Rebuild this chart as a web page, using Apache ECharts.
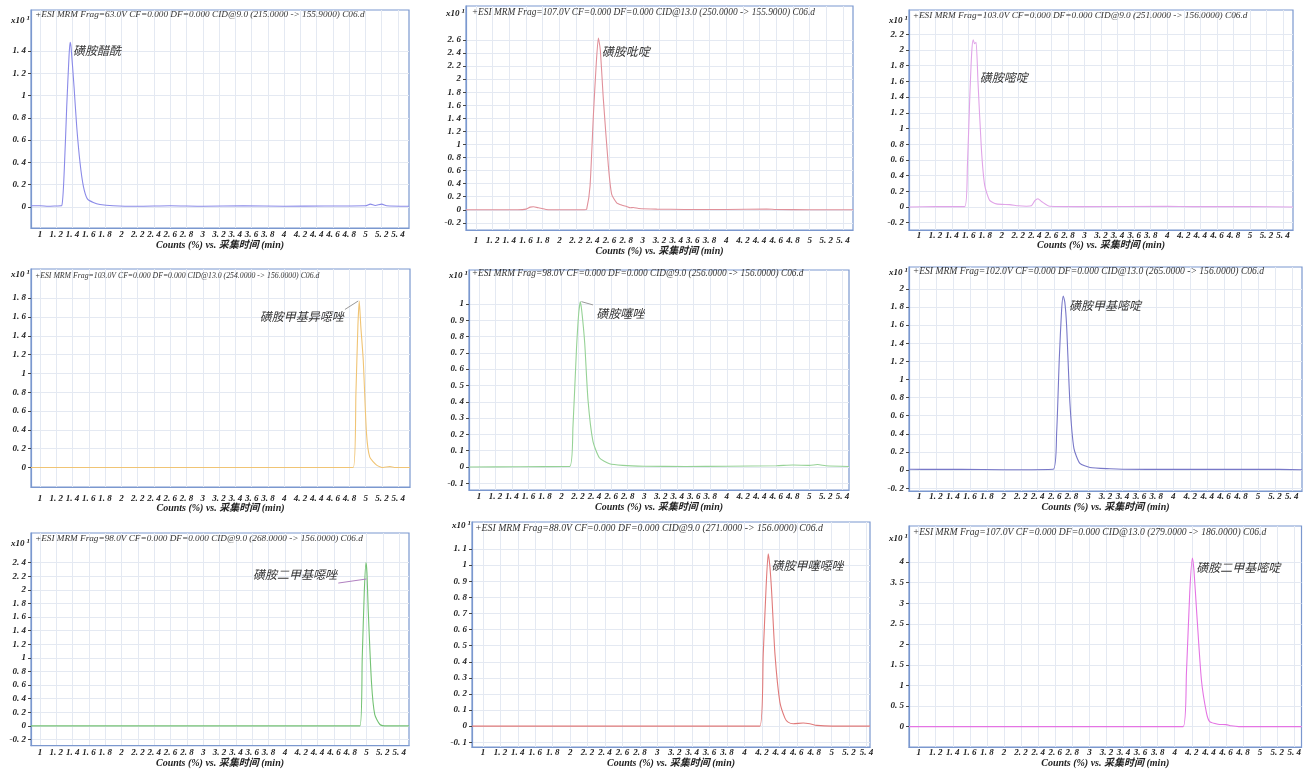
<!DOCTYPE html>
<html><head><meta charset="utf-8">
<script src="https://cdn.jsdelivr.net/npm/echarts@6/dist/echarts.min.js"></script>
<style>html,body{margin:0;padding:0;background:#fff}#c{width:1304px;height:769px}</style>
</head><body><div id="c"></div>
<script>
// ---------------- data ----------------
const xTicks = [1,1.2,1.4,1.6,1.8,2,2.2,2.4,2.6,2.8,3,3.2,3.4,3.6,3.8,4,4.2,4.4,4.6,4.8,5,5.2,5.4];
const compounds = ['磺胺醋酰','磺胺吡啶','磺胺嘧啶','磺胺甲基异噁唑','磺胺噻唑','磺胺甲基嘧啶','磺胺二甲基噁唑','磺胺甲噻噁唑','磺胺二甲基嘧啶'];
const headers = [
 '+ESI MRM Frag=63.0V CF=0.000 DF=0.000 CID@9.0 (215.0000 -> 155.9000) C06.d',
 '+ESI MRM Frag=107.0V CF=0.000 DF=0.000 CID@13.0 (250.0000 -> 155.9000) C06.d',
 '+ESI MRM Frag=103.0V CF=0.000 DF=0.000 CID@9.0 (251.0000 -> 156.0000) C06.d',
 '+ESI MRM Frag=103.0V CF=0.000 DF=0.000 CID@13.0 (254.0000 -> 156.0000) C06.d',
 '+ESI MRM Frag=98.0V CF=0.000 DF=0.000 CID@9.0 (256.0000 -> 156.0000) C06.d',
 '+ESI MRM Frag=102.0V CF=0.000 DF=0.000 CID@13.0 (265.0000 -> 156.0000) C06.d',
 '+ESI MRM Frag=98.0V CF=0.000 DF=0.000 CID@9.0 (268.0000 -> 156.0000) C06.d',
 '+ESI MRM Frag=88.0V CF=0.000 DF=0.000 CID@9.0 (271.0000 -> 156.0000) C06.d',
 '+ESI MRM Frag=107.0V CF=0.000 DF=0.000 CID@13.0 (279.0000 -> 186.0000) C06.d'
];
const xName = 'Counts (%) vs. 采集时间 (min)';

const t1 = [0.889,1.0,1.1,1.2,1.266,1.299,1.328,1.356,1.369,1.381,1.418,1.451,1.492,1.533,1.582,1.655,1.737,1.9,2.2,2.6,3.0,3.5,4.0,4.5,5.0,5.06,5.12,5.2,5.26,5.535];
const v1 = [0.01,0.01,0.005,0.008,0.01,0.35,0.9,1.35,1.48,1.44,1.08,0.72,0.394,0.185,0.072,0.04,0.022,0.01,0.005,0.01,0.005,0.01,0.005,0.008,0.01,0.025,0.012,0.025,0.01,0.005];

const t2 = [0.88,1.5,1.6,1.65,1.687,1.75,1.84,2.0,2.3,2.327,2.367,2.407,2.44,2.467,2.49,2.527,2.587,2.627,2.687,2.75,2.807,2.85,2.886,2.95,3.167,3.5,4.0,4.485,4.6,5.0,5.52];
const v2 = [0.0,0.0,0.01,0.04,0.045,0.03,0.005,0.0,0.0,0.01,0.36,1.44,2.2,2.63,2.45,1.69,0.67,0.235,0.107,0.07,0.05,0.03,0.035,0.02,0.01,0.005,0.005,0.012,0.005,0.0,0.0];

const t3 = [0.879,1.2,1.552,1.585,1.613,1.637,1.655,1.672,1.69,1.713,1.754,1.794,1.854,1.935,2.096,2.2,2.298,2.358,2.4,2.438,2.48,2.579,3.0,4.0,4.3,5.0,5.52];
const v3 = [0.0,0.005,0.005,0.53,1.38,1.97,2.13,2.08,2.1,1.59,0.74,0.275,0.085,0.04,0.03,0.015,0.01,0.015,0.08,0.106,0.07,0.01,0.005,0.008,0.005,0.005,0.0];

const t4 = [0.89,4.0,4.847,4.88,4.904,4.921,4.94,4.97,5.01,5.05,5.134,5.215,5.297,5.35,5.544];
const v4 = [0.0,0.0,0.0,0.79,1.5,1.77,1.5,1.14,0.36,0.11,0.025,0.0,0.01,0.0,0.0];

const t5 = [0.879,1.5,2.098,2.138,2.18,2.207,2.228,2.25,2.28,2.32,2.38,2.46,2.58,2.74,3.0,3.5,4.0,4.6,4.8,5.0,5.1,5.2,5.48];
const v5 = [0.0,0.002,0.003,0.25,0.72,0.94,1.014,0.93,0.76,0.41,0.157,0.055,0.02,0.01,0.005,0.003,0.005,0.008,0.012,0.01,0.015,0.008,0.003];

const t6 = [0.88,1.2,1.5,2.0,2.583,2.623,2.654,2.682,2.701,2.72,2.741,2.78,2.827,2.898,3.017,3.253,3.4,4.0,5.0,5.52];
const v6 = [0.01,0.008,0.01,0.005,0.01,0.41,1.22,1.77,1.92,1.85,1.59,0.74,0.24,0.074,0.03,0.015,0.01,0.008,0.01,0.005];

const t7 = [0.89,4.919,4.947,4.972,4.993,5.005,5.02,5.06,5.10,5.164,5.25,5.52];
const v7 = [0.0,0.0,0.99,1.96,2.4,2.25,1.72,0.65,0.17,0.02,0.0,0.0];

const t8 = [0.874,4.176,4.215,4.246,4.272,4.29,4.311,4.35,4.406,4.464,4.5,4.56,4.674,4.75,4.83,5.0,5.44];
const v8 = [0.0,0.0,0.446,0.84,1.07,1.0,0.84,0.446,0.149,0.05,0.025,0.015,0.02,0.015,0.005,0.0,0.0];

const t9 = [0.887,4.098,4.137,4.176,4.207,4.225,4.254,4.312,4.37,4.41,4.507,4.604,4.66,4.75,5.485];
const v9 = [0.0,0.0,1.3,3.27,4.1,3.8,2.88,1.145,0.355,0.12,0.06,0.05,0.02,0.0,0.0];

const yTicks1 = [0,0.2,0.4,0.6,0.8,1,1.2,1.4];
const yTicks2 = [-0.2,0,0.2,0.4,0.6,0.8,1,1.2,1.4,1.6,1.8,2,2.2,2.4,2.6];
const yTicks3 = [-0.2,0,0.2,0.4,0.6,0.8,1,1.2,1.4,1.6,1.8,2,2.2];
const yTicks4 = [0,0.2,0.4,0.6,0.8,1,1.2,1.4,1.6,1.8];
const yTicks5 = [-0.1,0,0.1,0.2,0.3,0.4,0.5,0.6,0.7,0.8,0.9,1];
const yTicks6 = [-0.2,0,0.2,0.4,0.6,0.8,1,1.2,1.4,1.6,1.8,2];
const yTicks7 = [-0.2,0,0.2,0.4,0.6,0.8,1,1.2,1.4,1.6,1.8,2,2.2,2.4];
const yTicks8 = [-0.1,0,0.1,0.2,0.3,0.4,0.5,0.6,0.7,0.8,0.9,1,1.1];
const yTicks9 = [0,0.5,1,1.5,2,2.5,3,3.5,4];

// annotation anchor (data coords, left edge of label) and leader lines
const annX = [1.406,2.507,1.734,3.70,2.421,2.768,3.609,4.311,4.253];
const annY = [1.41,2.43,1.647,1.604,0.939,1.82,2.22,0.997,3.87];
const leaders = [null,null,null,[[4.745,1.68],[4.908,1.77]],[[2.24,1.014],[2.38,0.994]],null,[[4.654,2.10],[5.0,2.16]],null,null];

// ---------------- layout / style ----------------
const T = [t1,t2,t3,t4,t5,t6,t7,t8,t9];
const V = [v1,v2,v3,v4,v5,v6,v7,v8,v9];
const YT = [yTicks1,yTicks2,yTicks3,yTicks4,yTicks5,yTicks6,yTicks7,yTicks8,yTicks9];
const gridL = [31,466,909,31,469,909,31,472,909];
const gridT = [10,6,10,269,270,267,533,522,526];
const gridW = [378,387,384,379,380,393,378,398,395];
const gridH = [218,224,220,218,220,224,215,235,227];
const xMin = [0.889,0.88,0.879,0.89,0.879,0.88,0.89,0.874,0.887];
const xMax = [5.535,5.52,5.52,5.544,5.48,5.52,5.52,5.44,5.485];
const yMin = [-0.19,-0.31,-0.293,-0.207,-0.141,-0.23,-0.29,-0.13,-0.497];
const yMax = [1.77,3.12,2.51,2.11,1.208,2.24,2.836,1.268,4.876];
const xLabMargin = [2.5,6.5,1,6.8,2.5,1.5,2.5,1,1];
const xNameGap = [4,8,2,5,3,2,3,3,5];
const yNameGap = [-11,-8,-11,-6,-6,-6,-11,-4,-12.6];
const hdrX = [35,471.7,912.7,35,471.7,912.7,35,475,912.7];
const hdrY = [15.7,14,16.7,276.7,275,272.7,540,529,533.3];
const hdrW = [330,344,335,285,332,352,328,348,354];
const lineColors = ['#8a8ae8','#e0909a','#e0a4e8','#f0c474','#96d296','#7878c8','#74c274','#e07a7a','#e474e4'];
const leaderColors = [null,null,null,'#999','#999',null,'#b080c0',null,null];
const boxColor = '#7b98cf';
const gridColor = '#e4e9f2';
const serif = '"Liberation Serif", "DejaVu Serif", serif';
const cjk = '"Liberation Serif", "Noto Sans CJK SC", serif';

const fmt = v => { let s = String(Math.round(v*10)/10); return s.replace('.', '. '); };

// fit header font sizes to measured widths
const cvs = document.createElement('canvas').getContext('2d');
cvs.font = 'italic 10px "Liberation Serif"';
const hdrFont = headers.map((h,i)=> +(10*hdrW[i]/cvs.measureText(h).width).toFixed(2));

const grids=[], xAxes=[], yAxes=[], series=[], titles=[];
for (let i=0;i<9;i++){
  grids.push({left:gridL[i], top:gridT[i], width:gridW[i], height:gridH[i], show:true, borderColor:boxColor, borderWidth:1.2, backgroundColor:'#fff', containLabel:false});
  xAxes.push({type:'value', gridIndex:i, min:xMin[i], max:xMax[i],
    name: xName, nameLocation:'middle', nameGap:xNameGap[i],
    nameTextStyle:{fontFamily:cjk, fontSize:10, fontWeight:'bold', fontStyle:'italic', color:'#222', verticalAlign:'top'},
    axisLine:{onZero:false, lineStyle:{color:boxColor, width:1.2}},
    axisTick:{show:false, customValues:xTicks},
    axisLabel:{customValues:xTicks, formatter:fmt, margin:xLabMargin[i], fontFamily:serif, fontSize:9, fontWeight:'bold', fontStyle:'italic', color:'#222'},
    splitLine:{show:true, lineStyle:{color:gridColor, width:1}}
  });
  yAxes.push({type:'value', gridIndex:i, min:yMin[i], max:yMax[i],
    name:'{a|x10}{b|1}', nameLocation:'end', nameGap:yNameGap[i],
    nameTextStyle:{align:'right', verticalAlign:'middle', padding:[0,1,0,0],
      rich:{a:{fontFamily:serif, fontSize:9, fontWeight:'bold', fontStyle:'italic', color:'#222'},
            b:{fontFamily:serif, fontSize:7, fontWeight:'bold', fontStyle:'italic', color:'#222', verticalAlign:'top', padding:[0,0,5,2]}}},
    axisLine:{onZero:false, lineStyle:{color:boxColor, width:1.2}},
    axisTick:{show:true, inside:false, length:3, customValues:YT[i], lineStyle:{color:'#444'}},
    axisLabel:{customValues:YT[i], formatter:fmt, margin:5, fontFamily:serif, fontSize:9, fontWeight:'bold', fontStyle:'italic', color:'#222'},
    splitLine:{show:true, lineStyle:{color:gridColor, width:1}}
  });
  const s = {type:'line', xAxisIndex:i, yAxisIndex:i, data:T[i].map((t,k)=>[t,V[i][k]]),
    showSymbol:false, smooth:0.2, lineStyle:{color:lineColors[i], width:1.1}, itemStyle:{color:lineColors[i]},
    animation:false, silent:true,
    markPoint:{symbol:'circle', symbolSize:0, silent:true, animation:false,
      data:[{coord:[annX[i],annY[i]], label:{show:true, position:'right', distance:0, formatter:compounds[i],
        fontFamily:'"Noto Sans CJK SC", sans-serif', fontSize:12, fontStyle:'italic', color:'#333'}}]}
  };
  if (leaders[i]) {
    s.markLine = {symbol:'none', silent:true, animation:false, label:{show:false},
      lineStyle:{color:leaderColors[i], width:1, type:'solid'},
      data:[[{coord:leaders[i][0]},{coord:leaders[i][1]}]]};
  }
  series.push(s);
  titles.push({text:headers[i], left:hdrX[i], top:hdrY[i]-hdrFont[i]/2-1, padding:0,
    textStyle:{fontFamily:serif, fontSize:hdrFont[i], fontStyle:'italic', fontWeight:'normal', color:'#333'}});
}

const chart = echarts.init(document.getElementById('c'), null, {renderer:'canvas'});
chart.setOption({backgroundColor:'#fff', animation:false, title:titles, grid:grids, xAxis:xAxes, yAxis:yAxes, series:series});
</script></body></html>
